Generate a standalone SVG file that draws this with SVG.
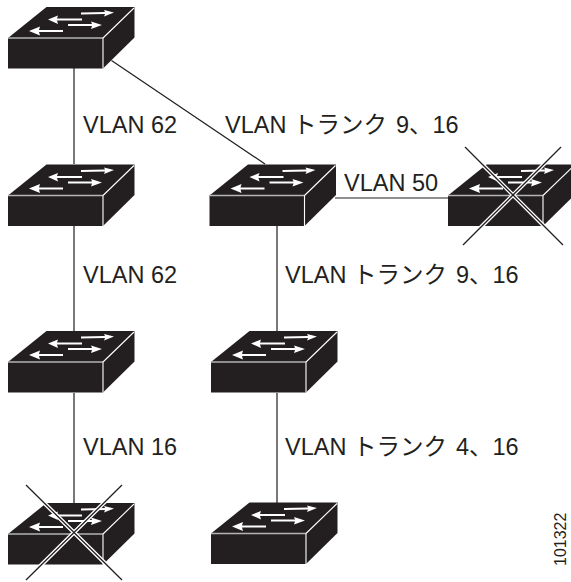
<svg xmlns="http://www.w3.org/2000/svg" width="571" height="582" viewBox="0 0 571 582">
<style>
text{font-family:"Liberation Sans","Noto Sans CJK JP",sans-serif;font-size:23.5px;fill:#231f20}
.l{stroke:#231f20;stroke-width:1.2;fill:none}
.b{fill:#231f20}
.e{stroke:#b5b5b5;stroke-width:1.4;fill:none}
.w{stroke:#fff;stroke-width:1.1;fill:none}
.a{fill:#fff}
.h{stroke:#fff;stroke-width:4;fill:none}
.x{stroke:#231f20;stroke-width:1.3;fill:none}
</style>
<defs>
<g id="sw">
<path class="b" d="M8 38L46.500 7H134.500V37.500L103 68.500H8Z"/>
<path class="e" d="M8 38H103"/>
<path class="w" d="M103 38V68.500M103 38L134 8"/>
<path class="a" d="M81 12.500L105 12L104 10L114 12.500L104 16.500L105 14L81 14.500Z"/>
<path class="a" d="M48 19.500L58 15.500L57 18.500H82V20.500H57L58 24Z"/>
<path class="a" d="M68 24H92L91 21.500L102 25L91 29L92 26H68Z"/>
<path class="a" d="M29 31L40 26.500L39 30H63V32H39L40 35.500Z"/>
</g>
</defs>
<g id="connectors">
<path class="l" d="M74 68V164M111.500 60.500L265 164M74 226V331M74 393V503M335 198H449M277 226V331M277 393V503"/>
</g>
<g id="switch-1"><use href="#sw"/></g>
<g id="switch-2"><use href="#sw" y="157.500"/></g>
<g id="switch-3"><use href="#sw" x="201.500" y="157.500"/></g>
<g id="switch-4"><use href="#sw" y="324"/></g>
<g id="switch-5"><use href="#sw" x="203" y="324"/></g>
<g id="switch-6"><use href="#sw" x="203" y="495.500"/></g>
<g id="switch-failed-1"><use href="#sw" x="440" y="157.500"/>
<path class="h" d="M465 147L563 245M561 147L463 245"/>
<path class="x" d="M465 147L563 245M561 147L463 245"/></g>
<g id="switch-failed-2"><use href="#sw" y="496"/>
<path class="h" d="M26 485L122 580M122 485L26 580"/>
<path class="x" d="M26 485L122 580M122 485L26 580"/></g>
<g id="labels">
<text x="83" y="133">VLAN 62</text>
<text x="225" y="133">VLAN トランク <tspan dx="2.500">9、16</tspan></text>
<text x="344" y="191">VLAN 50</text>
<text x="83" y="283">VLAN 62</text>
<text x="285" y="283">VLAN トランク <tspan dx="2.500">9、16</tspan></text>
<text x="83" y="455">VLAN 16</text>
<text x="285" y="455">VLAN トランク <tspan dx="2.500">4、16</tspan></text>
<text transform="translate(566 566) rotate(-90)" style="font-size:16px">101322</text>
</g>
</svg>
